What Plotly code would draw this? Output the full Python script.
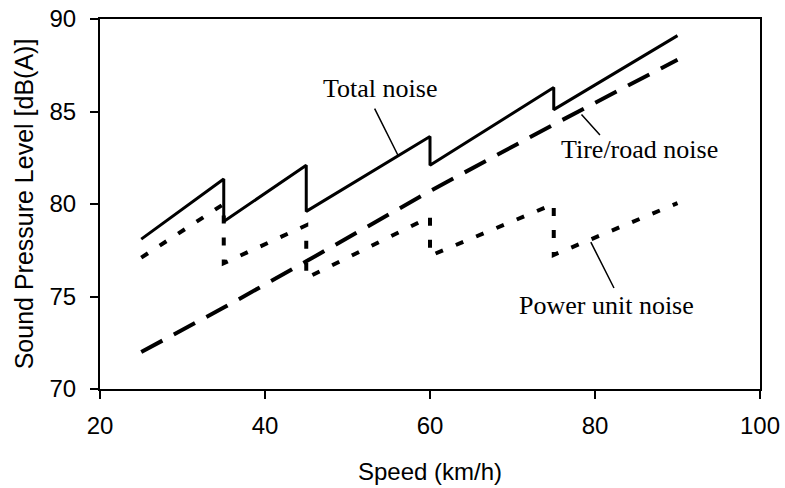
import plotly.graph_objects as go

# Data (speed km/h, sound pressure level dB(A))
total_speed = [25, 35, 35, 45, 45, 60, 60, 75, 75, 90]
total_spl = [78.1, 81.35, 79.05, 82.1, 79.6, 83.65, 82.1, 86.3, 85.1, 89.1]

tire_speed = [25, 35, 45, 60, 75, 90]
tire_spl = [72.0, 74.4, 76.9, 80.7, 84.3, 87.8]

power_speed = [25, 35, 35, 45, 45, 60, 60, 75, 75, 90]
power_spl = [77.1, 80.0, 76.8, 78.85, 76.0, 79.3, 77.2, 80.0, 77.25, 80.05]

x_ticks = [20, 40, 60, 80, 100]
y_ticks = [70, 75, 80, 85, 90]

fig = go.Figure()
fig.add_trace(go.Scatter(x=total_speed, y=total_spl, mode="lines",
                         line=dict(color="black", width=3), name="Total noise"))
fig.add_trace(go.Scatter(x=tire_speed, y=tire_spl, mode="lines",
                         line=dict(color="black", width=4, dash="24px,13px"), name="Tire/road noise"))
fig.add_trace(go.Scatter(x=power_speed, y=power_spl, mode="lines",
                         line=dict(color="black", width=4, dash="8px,14px"), name="Power unit noise"))

serif = dict(family="Liberation Serif, Times New Roman, serif", size=26, color="black")
ann = [
    dict(text="Total noise", x=53.9, y=86.25, lx=(53.2, 56.1), ly=(85.24, 82.65)),
    dict(text="Tire/road noise", x=85.45, y=82.95, lx=(78.2, 80.6), ly=(84.92, 83.73)),
    dict(text="Power unit noise", x=81.45, y=74.5, lx=(79.4, 82.3), ly=(78.02, 75.46)),
]
for a in ann:
    fig.add_annotation(x=a["x"], y=a["y"], text=a["text"], showarrow=False,
                       font=serif, xanchor="center", yanchor="middle")
    fig.add_annotation(x=a["lx"][1], y=a["ly"][1], ax=a["lx"][0], ay=a["ly"][0],
                       axref="x", ayref="y", xref="x", yref="y", text="",
                       showarrow=True, arrowhead=0, arrowwidth=1.5, arrowcolor="black",
                       standoff=0, startstandoff=0)

tick_font = dict(family="Liberation Sans, Arial, sans-serif", size=24, color="black")
title_font = dict(family="Liberation Sans, Arial, sans-serif", size=24, color="black")
fig.update_layout(
    width=785, height=488,
    margin=dict(l=100, r=25, t=19, b=99, autoexpand=False),
    paper_bgcolor="white", plot_bgcolor="white",
    showlegend=False,
    font=tick_font,
    xaxis=dict(range=[20, 100], tickvals=x_ticks, ticks="outside", ticklen=8, tickwidth=2,
               tickcolor="black", showline=True, linecolor="black", linewidth=2, mirror=True,
               showgrid=False, zeroline=False, tickfont=tick_font, automargin=False,
               ticklabelstandoff=6, ticklabeloverflow="allow",
               title=dict(text="Speed (km/h)", font=title_font, standoff=25)),
    yaxis=dict(range=[70, 90], tickvals=y_ticks, ticks="outside", ticklen=8, tickwidth=2,
               tickcolor="black", showline=True, linecolor="black", linewidth=2, mirror=True,
               showgrid=False, zeroline=False, tickfont=tick_font, automargin=False,
               ticklabelstandoff=9, ticklabeloverflow="allow",
               title=dict(text="Sound Pressure Level [dB(A)]",
                          font=dict(family="Liberation Sans, Arial, sans-serif", size=25, color="black"),
                          standoff=9)),
)

fig.write_html("out.html", config={"displayModeBar": False},
               post_script="document.body.style.margin='0';document.body.style.overflow='hidden';")
